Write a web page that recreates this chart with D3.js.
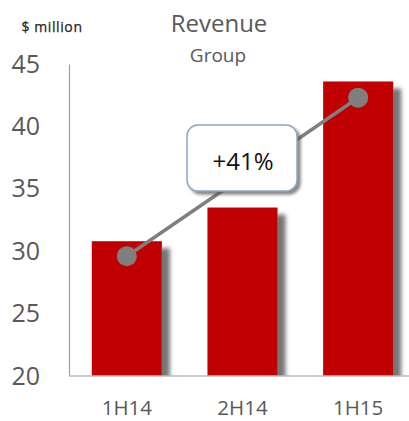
<!DOCTYPE html>
<html>
<head>
<meta charset="utf-8">
<script src="https://cdn.jsdelivr.net/npm/d3@7"></script>
<style>
  body { margin: 0; background: #fff; }
  svg { display: block; font-family: "Open Sans", "Noto Sans", sans-serif; }
</style>
</head>
<body>
<svg id="chart" width="409" height="421"></svg>
<script>
var periods = ["1H14", "2H14", "1H15"];
var revenue = [30.8, 33.5, 43.6];
var trendPeriods = ["1H14", "1H15"];
var trendValues = [29.6, 42.3];
var growthLabel = "+41%";
var yTicks = [20, 25, 30, 35, 40, 45];

var svg = d3.select("#chart");
var margin = {top: 64, right: 0, bottom: 45, left: 69};
var width = 409, height = 421;

var x = d3.scaleBand()
  .domain(periods)
  .range([margin.left, 416])
  .paddingInner(0.394)
  .paddingOuter(0.197);

var y = d3.scaleLinear()
  .domain([20, 45])
  .range([376, margin.top]);

var defs = svg.append("defs");
var barShadow = defs.append("filter").attr("id", "barShadow")
  .attr("x", "-20%").attr("y", "-20%").attr("width", "160%").attr("height", "160%");
barShadow.append("feGaussianBlur").attr("in", "SourceAlpha").attr("stdDeviation", 2.2).attr("result", "b");
barShadow.append("feOffset").attr("in", "b").attr("dx", 8).attr("dy", 7).attr("result", "o");
barShadow.append("feFlood").attr("flood-color", "#6e6e6e").attr("flood-opacity", 0.95);
barShadow.append("feComposite").attr("in2", "o").attr("operator", "in").attr("result", "s");
var m1 = barShadow.append("feMerge");
m1.append("feMergeNode").attr("in", "s");
m1.append("feMergeNode").attr("in", "SourceGraphic");

var boxShadow = defs.append("filter").attr("id", "boxShadow")
  .attr("x", "-20%").attr("y", "-20%").attr("width", "150%").attr("height", "150%");
boxShadow.append("feGaussianBlur").attr("in", "SourceAlpha").attr("stdDeviation", 1.5).attr("result", "b");
boxShadow.append("feOffset").attr("in", "b").attr("dx", 3).attr("dy", 3).attr("result", "o");
boxShadow.append("feFlood").attr("flood-color", "#555").attr("flood-opacity", 0.7);
boxShadow.append("feComposite").attr("in2", "o").attr("operator", "in").attr("result", "s");
var m2 = boxShadow.append("feMerge");
m2.append("feMergeNode").attr("in", "s");
m2.append("feMergeNode").attr("in", "SourceGraphic");

defs.append("clipPath").attr("id", "plotClip")
  .append("rect").attr("x", margin.left).attr("y", 0)
  .attr("width", width - margin.left).attr("height", y(20));

// titles
svg.append("text").attr("x", 52).attr("y", 32).attr("text-anchor", "middle")
  .attr("font-size", 14).attr("fill", "#262626").attr("stroke", "#262626").attr("stroke-width", 0.25)
  .attr("letter-spacing", 0.6).text("$ million");
svg.append("text").attr("x", 219).attr("y", 32).attr("text-anchor", "middle")
  .attr("font-size", 24).attr("fill", "#595959").text("Revenue");
svg.append("text").attr("x", 218).attr("y", 62).attr("text-anchor", "middle")
  .attr("font-size", 19).attr("fill", "#595959").text("Group");

// bars
svg.append("g").attr("clip-path", "url(#plotClip)")
  .selectAll("rect").data(periods).enter().append("rect")
  .attr("x", function(d) { return x(d); })
  .attr("y", function(d, i) { return y(revenue[i]); })
  .attr("width", x.bandwidth())
  .attr("height", function(d, i) { return y(20) - y(revenue[i]); })
  .attr("fill", "#c00000")
  .attr("filter", "url(#barShadow)");

// axes
var yAxis = svg.append("g").attr("transform", "translate(" + margin.left + ",0)")
  .call(d3.axisLeft(y).tickValues(yTicks).tickSize(0).tickPadding(29));
yAxis.select(".domain").attr("stroke", "#a0a0a0").attr("stroke-width", 1.2);
yAxis.selectAll("text").attr("font-size", 25).attr("fill", "#595959")
  .attr("font-family", "'Open Sans', sans-serif");

var xAxis = svg.append("g").attr("transform", "translate(0," + y(20) + ")")
  .call(d3.axisBottom(x).tickSize(0).tickPadding(24));
xAxis.select(".domain").attr("d", "M" + margin.left + ",0H" + width)
  .attr("stroke", "#bdbdbd").attr("stroke-width", 1.5);
xAxis.selectAll("text").attr("font-size", 20.5).attr("fill", "#595959")
  .attr("font-family", "'Open Sans', sans-serif");

// trend line
var cx = function(d) { return x(d) + x.bandwidth() / 2; };
svg.append("path")
  .datum(trendPeriods)
  .attr("d", d3.line().x(cx).y(function(d, i) { return y(trendValues[i]); }))
  .attr("stroke", "#7f7f7f").attr("stroke-width", 3.5).attr("fill", "none");
svg.selectAll("circle.pt").data(trendPeriods).enter().append("circle")
  .attr("class", "pt")
  .attr("cx", cx)
  .attr("cy", function(d, i) { return y(trendValues[i]); })
  .attr("r", 10)
  .attr("fill", "#7f7f7f");

// growth callout
var bx = 187, by = 125, bw = 110, bh = 66;
svg.append("rect").attr("x", bx).attr("y", by).attr("width", bw).attr("height", bh)
  .attr("rx", 11).attr("fill", "#fff").attr("stroke", "#8ea6c4").attr("stroke-width", 1.5)
  .attr("filter", "url(#boxShadow)");
svg.append("text").attr("x", bx + bw / 2 + 1).attr("y", by + 45).attr("text-anchor", "middle")
  .attr("font-size", 24).attr("fill", "#111").text(growthLabel);
</script>
</body>
</html>
